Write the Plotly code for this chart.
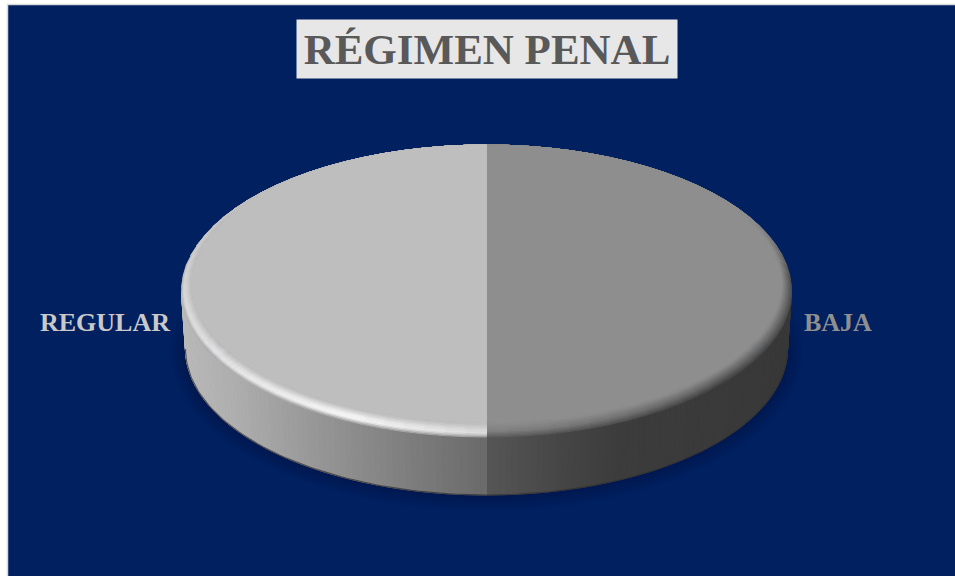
import numpy as np
import plotly.graph_objects as go

# ---- data ----
categories = ["BAJA", "REGULAR"]
values = [50, 50]
title_text = "RÉGIMEN PENAL"

# ---- styles ----
NAVY = "#002060"
FACE = {"BAJA": 142, "REGULAR": 190}
LABEL_COL = {"BAJA": "#8f8f8f", "REGULAR": "#c9c9c9"}
LABEL_POS = {"BAJA": (802, 322.5, "left"), "REGULAR": (171.5, 322.5, "right")}
FONT = "Liberation Serif"

CX, CY, RX, RY = 486.5, 291, 305, 146
IN_CY, IN_RX, IN_RY = 284, 295, 139
BOT_CY, BOT_RX, BOT_RY = 349, 301, 146


def grey(v):
    v = int(round(float(np.clip(v, 0, 255))))
    return f"rgb({v},{v},{v})"


def pt(phi, cx, cy, rx, ry):
    a = np.radians(phi)
    return cx + rx * np.sin(a), cy - ry * np.cos(a)


def ring(phi, s):
    """point on the bevel: s=0 outer rim, s=1 inner face edge"""
    return pt(phi, CX, CY + (IN_CY - CY) * s, RX + (IN_RX - RX) * s, RY + (IN_RY - RY) * s)


def side_val(x):
    return np.interp(x, [182, 230, 300, 400, 486, 487, 560, 620, 792],
                     [186, 175, 155, 128, 106, 86, 70, 60, 56])


def bevel_val(phi, s):
    if phi >= 180:  # left half
        peak = np.interp(phi, [180, 207, 240, 270, 300, 330, 360],
                         [222, 250, 232, 218, 200, 192, 190])
        outer = np.interp(phi, [180, 270, 300, 360], [150, 175, 190, 190])
        return np.interp(s, [0, 0.3, 0.55, 1], [outer, peak, peak - 8, 190])
    outer = np.interp(phi, [0, 60, 85, 130, 180], [142, 142, 78, 62, 92])
    mid = np.interp(phi, [0, 60, 85, 130, 180], [142, 142, 108, 100, 130])
    return np.interp(s, [0, 0.45, 1], [outer, mid, 142])


def poly(fig, xs, ys, color, line=None, width=1):
    fig.add_trace(go.Scatter(
        x=xs, y=ys, mode="lines", fill="toself", fillcolor=color,
        line=dict(color=line or color, width=width), hoverinfo="skip", showlegend=False))


fig = go.Figure()

# soft shadow under the disc
for i in range(9):
    xs, ys = pt(np.linspace(0, 360, 181), CX, BOT_CY + 3, BOT_RX + 15 - i * 2, BOT_RY + 13 - i * 2)
    poly(fig, list(xs), list(ys), "rgba(0,0,30,0.022)", line="rgba(0,0,0,0)", width=0)

# slice angles come from the values
total = sum(values)
edges = np.concatenate([[0], np.cumsum(values) / total * 360])

# wall of the disc, split into strips per slice
for k, cat in enumerate(categories):
    a0, a1 = edges[k], edges[k + 1]
    lo, hi = max(a0, 90), min(a1, 270)
    if hi <= lo:
        continue
    steps = np.linspace(lo, hi, int((hi - lo) / 1.2) + 1)
    for p, q in zip(steps[:-1], steps[1:]):
        x1, y1 = pt(p, CX, CY, RX, RY)
        x2, y2 = pt(q, CX, CY, RX, RY)
        x3, y3 = pt(q, CX, BOT_CY, BOT_RX, BOT_RY)
        x4, y4 = pt(p, CX, BOT_CY, BOT_RX, BOT_RY)
        poly(fig, [x1, x2, x3, x4, x1], [y1, y2, y3, y4, y1], grey(side_val((x1 + x2) / 2)))
    # darker lower edge of the wall
    xs, ys = pt(steps, CX, BOT_CY, BOT_RX, BOT_RY)
    fig.add_trace(go.Scatter(x=list(xs), y=list(ys), mode="lines",
                             line=dict(color="rgba(50,50,50,0.75)", width=1.2),
                             hoverinfo="skip", showlegend=False))

# bevelled rim
layers = np.linspace(0, 1, 11)
for k, cat in enumerate(categories):
    a0, a1 = edges[k], edges[k + 1]
    steps = np.linspace(a0, a1, int((a1 - a0) / 4) + 1)
    for s0, s1 in zip(layers[:-1], layers[1:]):
        sm = (s0 + s1) / 2
        for p, q in zip(steps[:-1], steps[1:]):
            x1, y1 = ring(p, s0)
            x2, y2 = ring(q, s0)
            x3, y3 = ring(q, s1)
            x4, y4 = ring(p, s1)
            poly(fig, [x1, x2, x3, x4, x1], [y1, y2, y3, y4, y1],
                 grey(bevel_val((p + q) / 2, sm)))

# flat top faces
for k, cat in enumerate(categories):
    phi = np.linspace(edges[k], edges[k + 1], 121)
    xs, ys = pt(phi, CX, IN_CY, IN_RX, IN_RY)
    poly(fig, [CX] + list(xs) + [CX], [IN_CY] + list(ys) + [IN_CY], grey(FACE[cat]))

# labels
annotations = []
for cat in categories:
    x, y, anchor = LABEL_POS[cat]
    annotations.append(dict(x=x, y=y, xref="x", yref="y", text=f"<b>{cat}</b>", showarrow=False,
                            xanchor=anchor, yanchor="middle",
                            font=dict(family=FONT, size=26, color=LABEL_COL[cat])))
annotations.append(dict(x=487, y=49, xref="x", yref="y", text=f"<b>{title_text}</b>", showarrow=False,
                        width=380, height=58, bgcolor="#e7e7e7", borderpad=0, align="center",
                        valign="middle", xanchor="center", yanchor="middle",
                        font=dict(family=FONT, size=43, color="#595959")))

fig.update_layout(
    width=955, height=576, margin=dict(l=0, r=0, t=0, b=0),
    paper_bgcolor="white", plot_bgcolor="white", showlegend=False,
    xaxis=dict(range=[0, 955], visible=False, fixedrange=True),
    yaxis=dict(range=[576, 0], visible=False, fixedrange=True),
    annotations=annotations,
    shapes=[dict(type="rect", xref="x", yref="y", x0=7.5, y0=4.5, x1=960, y1=580,
                 fillcolor=NAVY, line=dict(color="#d9d9d9", width=1.5), layer="below")],
)

fig.write_html("out.html", config={"displayModeBar": False},
               post_script="document.body.style.margin='0';document.body.style.overflow='hidden';")
